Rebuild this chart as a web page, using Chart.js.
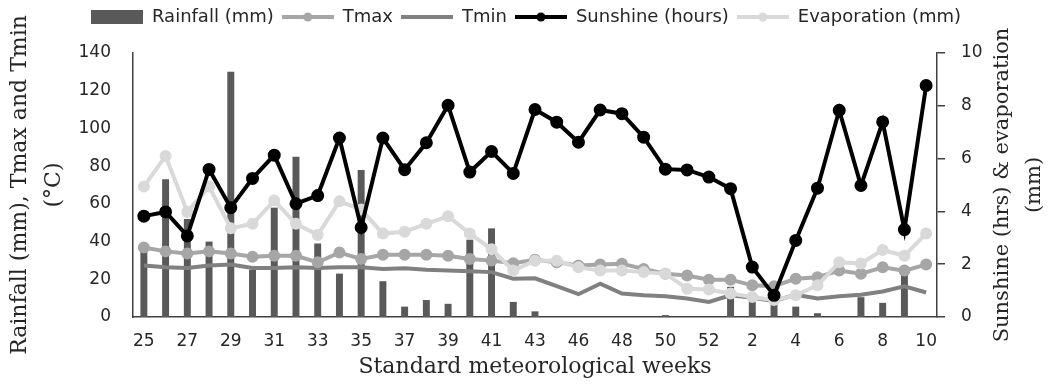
<!DOCTYPE html>
<html>
<head>
<meta charset="utf-8">
<script src="https://cdn.jsdelivr.net/npm/chart.js@4.4.1/dist/chart.umd.min.js"></script>
<style>
  html, body { margin: 0; padding: 0; background: #fff; }
  #chart { display: block; }
</style>
</head>
<body>
<canvas id="chart" width="1052" height="384"></canvas>
<script>
// Standard meteorological weeks (week 44 hidden between 43 and 46)
const weeks = ['25', '26', '27', '28', '29', '30', '31', '32', '33', '34', '35', '36', '37', '38', '39', '40', '41', '42', '43', '44',
    '46', '47', '48', '49', '50', '51', '52', '1', '2', '3', '4', '5', '6', '7', '8', '9', '10'];

const rainfall = [38, 73, 52, 40, 130, 25, 58, 85, 39, 23, 78, 19, 5.5, 9, 7, 41, 47, 8, 3, 0,
    0, 0, 0, 0, 1, 0, 0, 16, 8.5, 7, 5.5, 2, 0, 10.5, 7.5, 23, 0];
const tmax = [36.9, 34.8, 33.7, 34.8, 33.7, 32, 32.5, 32.5, 29, 34.2, 30.8, 33, 33, 33, 32.5, 30.8, 29.9, 28.5, 30.3, 29,
    27.3, 27.8, 28.2, 25.5, 22.9, 22, 19.8, 19.8, 16.8, 16.3, 20.3, 21.1, 24.6, 22.9, 26.4, 24.6, 27.8];
const tmin = [27.3, 26.4, 26, 27.3, 27.8, 26, 26, 26.4, 26, 26.4, 26.4, 25.5, 25.9, 25, 24.6, 24.3, 23.8, 20.3, 20.5, 16.4,
    12.1, 17.7, 12.4, 11.5, 11, 9.8, 8, 11.5, 10.2, 8.5, 11.8, 9.8, 11, 11.8, 13.5, 16.3, 13];
const sunshine = [3.82, 3.98, 3.07, 5.59, 4.14, 5.25, 6.13, 4.29, 4.6, 6.78, 3.39, 6.78, 5.58, 6.6, 8.02, 5.49, 6.27, 5.44, 7.86, 7.38,
    6.62, 7.84, 7.7, 6.81, 5.6, 5.57, 5.3, 4.86, 1.89, 0.82, 2.9, 4.88, 7.83, 4.98, 7.39, 3.31, 8.77];
const evaporation = [4.94, 6.1, 3.98, 4.94, 3.36, 3.53, 4.41, 3.53, 3.11, 4.38, 4.07, 3.16, 3.23, 3.53, 3.82, 3.16, 2.57, 1.76, 2.13, 2.13,
    1.88, 1.76, 1.76, 1.7, 1.64, 1.07, 1.04, 0.89, 0.76, 0.64, 0.82, 1.2, 2.07, 2.03, 2.54, 2.32, 3.16];

const colors = {
    rain: '#595959',
    tmax: '#a6a6a6',
    tmin: '#808080',
    sun: '#000000',
    evap: '#d9d9d9',
    text: '#262626'
};

const sansFont = "'DejaVu Sans', sans-serif";
const serifFont = "'DejaVu Serif', serif";

// Excel-like legend icons (line with marker in the middle)
function makeIcon(color, kind) {
    const c = document.createElement('canvas');
    c.width = 52;
    c.height = 14;
    const g = c.getContext('2d');
    if (kind === 'bar') {
        g.fillStyle = color;
        g.fillRect(0, 0, 52, 14);
    } else {
        g.strokeStyle = color;
        g.lineWidth = 4;
        g.beginPath();
        g.moveTo(0, 7);
        g.lineTo(52, 7);
        g.stroke();
        if (kind === 'marker') {
            g.fillStyle = color;
            g.beginPath();
            g.arc(26, 7, 4.5, 0, Math.PI * 2);
            g.fill();
        }
    }
    return c;
}

const legendIcons = [
    makeIcon(colors.rain, 'bar'),
    makeIcon(colors.tmax, 'marker'),
    makeIcon(colors.tmin, 'line'),
    makeIcon(colors.sun, 'marker'),
    makeIcon(colors.evap, 'marker')
];

// extra space between legend and plot
const legendGap = {
    id: 'legendGap',
    beforeInit(chart) {
        const fit = chart.legend.fit;
        chart.legend.fit = function () {
            fit.call(this);
            this.height += 17;
        };
    }
};

// right axis title reads bottom-to-top like the left one
const rightTitle = {
    id: 'rightTitle',
    afterDraw(chart) {
        const ctx = chart.ctx;
        const area = chart.chartArea;
        const cy = (area.top + area.bottom) / 2;
        ctx.save();
        ctx.fillStyle = colors.text;
        ctx.font = '21px ' + serifFont;
        ctx.textAlign = 'center';
        ctx.textBaseline = 'middle';
        [['Sunshine (hrs) & evaporation', 66], ['(mm)', 98]].forEach(([txt, dx]) => {
            ctx.save();
            ctx.translate(area.right + dx, cy);
            ctx.rotate(-Math.PI / 2);
            ctx.fillText(txt, 0, 0);
            ctx.restore();
        });
        ctx.restore();
    }
};

const lineDefaults = {
    type: 'line',
    yAxisID: 'y1',
    borderWidth: 4,
    pointRadius: 4.5,
    pointHoverRadius: 4.5,
    tension: 0,
    fill: false
};

new Chart(document.getElementById('chart'), {
    type: 'bar',
    data: {
        labels: weeks,
        datasets: [
            {
                label: 'Rainfall (mm)',
                data: rainfall,
                yAxisID: 'y',
                backgroundColor: colors.rain,
                barPercentage: 0.32,
                categoryPercentage: 1,
                order: 5
            },
            {
                ...lineDefaults,
                label: 'Tmax',
                data: tmax,
                yAxisID: 'y',
                borderColor: colors.tmax,
                backgroundColor: colors.tmax,
                pointRadius: 4,
                order: 3
            },
            {
                ...lineDefaults,
                label: 'Tmin',
                data: tmin,
                yAxisID: 'y',
                borderColor: colors.tmin,
                backgroundColor: colors.tmin,
                pointRadius: 0,
                order: 4
            },
            {
                ...lineDefaults,
                label: 'Sunshine (hours)',
                data: sunshine,
                borderColor: colors.sun,
                backgroundColor: colors.sun,
                order: 1
            },
            {
                ...lineDefaults,
                label: 'Evaporation (mm)',
                data: evaporation,
                borderColor: colors.evap,
                backgroundColor: colors.evap,
                pointRadius: 4,
                order: 2
            }
        ]
    },
    options: {
        responsive: false,
        animation: false,
        layout: { padding: { top: 0, left: 0, right: 0, bottom: 0 } },
        plugins: {
            tooltip: { enabled: false },
            legend: {
                position: 'top',
                labels: {
                    usePointStyle: true,
                    pointStyleWidth: 52,
                    boxHeight: 14,
                    padding: 8,
                    color: colors.text,
                    font: { family: sansFont, size: 18 },
                    generateLabels: (chart) => chart.data.datasets.map((ds, i) => ({
                        text: ds.label,
                        pointStyle: legendIcons[i],
                        fillStyle: 'transparent',
                        strokeStyle: 'transparent',
                        lineWidth: 0,
                        fontColor: colors.text,
                        hidden: false,
                        datasetIndex: i
                    }))
                }
            }
        },
        scales: {
            x: {
                grid: { display: false },
                border: { display: true, color: '#404040', width: 1.5 },
                ticks: {
                    autoSkip: false,
                    maxRotation: 0,
                    padding: 6,
                    color: colors.text,
                    font: { family: sansFont, size: 17 },
                    callback: (val, idx) => (idx % 2 === 0 ? weeks[idx] : '')
                },
                title: {
                    display: true,
                    text: 'Standard meteorological weeks',
                    color: colors.text,
                    font: { family: serifFont, size: 22 },
                    padding: { top: 2, bottom: 4 }
                },
                afterFit: (scale) => { scale.height = 67; }
            },
            y: {
                position: 'left',
                min: 0,
                max: 140,
                grid: { display: false },
                border: { display: true, color: '#404040', width: 1.5 },
                ticks: {
                    stepSize: 20,
                    padding: 14,
                    color: colors.text,
                    font: { family: sansFont, size: 17 }
                },
                title: {
                    display: true,
                    text: ['Rainfall (mm), Tmax and Tmin', '(°C)'],
                    color: colors.text,
                    font: { family: serifFont, size: 22, lineHeight: 1.55 },
                    padding: { top: 3, bottom: 0 }
                },
                afterFit: (scale) => { scale.width = 133; }
            },
            y1: {
                position: 'right',
                min: 0,
                max: 10,
                grid: {
                    display: true,
                    drawOnChartArea: false,
                    drawTicks: true,
                    tickLength: 8,
                    color: '#404040',
                    lineWidth: 1.5
                },
                border: { display: true, color: '#404040', width: 1.5 },
                ticks: {
                    stepSize: 2,
                    padding: 16,
                    color: colors.text,
                    font: { family: sansFont, size: 17 }
                },
                afterFit: (scale) => { scale.width = 115; }
            }
        }
    },
    plugins: [legendGap, rightTitle]
});
</script>
</body>
</html>
